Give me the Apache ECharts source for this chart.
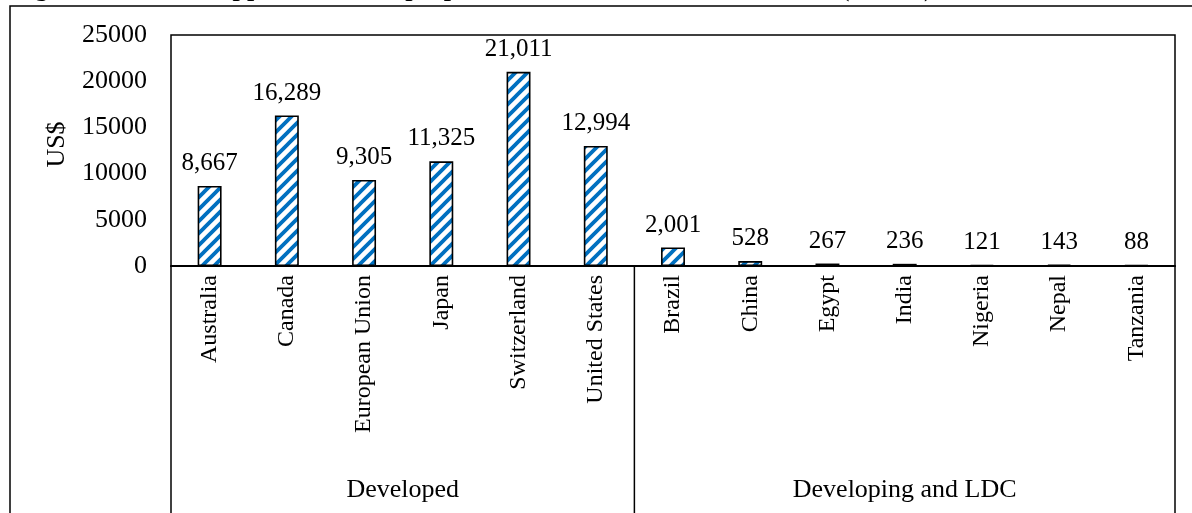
<!DOCTYPE html>
<html>
<head>
<meta charset="utf-8">
<script src="https://cdn.jsdelivr.net/npm/echarts@6/dist/echarts.min.js"></script>
<style>
  html, body { margin: 0; padding: 0; background: #fff; }
  #chart { width: 1192px; height: 513px; }
</style>
</head>
<body>
<div id="chart"></div>
<script>
// Market support per member, in US$
const countries = ['Australia', 'Canada', 'European Union', 'Japan', 'Switzerland', 'United States',
                   'Brazil', 'China', 'Egypt', 'India', 'Nigeria', 'Nepal', 'Tanzania'];
const supportUSD = [8667, 16289, 9305, 11325, 21011, 12994, 2001, 528, 267, 236, 121, 143, 88];
const groupNames = ['Developed', 'Developing and LDC'];
const groupSizes = [6, 7];
const yTicks = { min: 0, max: 25000, step: 5000 };
const titleText = 'Figure 2. Market support based on proposed AMS levels for each member (in US$)';

const FONT = '"Liberation Serif", "Times New Roman", serif';
const STRIPE = '#0070C0';

// Wide upward-diagonal hatch used as the bar fill
function hatch() {
  const s = 12;
  const c = document.createElement('canvas');
  c.width = s; c.height = s;
  const g = c.getContext('2d');
  g.fillStyle = '#fff';
  g.fillRect(0, 0, s, s);
  g.strokeStyle = STRIPE;
  g.lineWidth = 3.8;
  g.beginPath();
  g.moveTo(-2, s + 2); g.lineTo(s + 2, -2);
  g.moveTo(-2 - s, s + 2); g.lineTo(2, -2);
  g.moveTo(s - 2, s + 2); g.lineTo(s + 2 + s, -2);
  g.stroke();
  return c;
}

const chart = echarts.init(document.getElementById('chart'), null, { renderer: 'canvas' });

const option = {
  animation: false,
  backgroundColor: '#fff',
  grid: {
    left: 171, right: 17, top: 35, bottom: 247,
    show: true, borderColor: '#000', borderWidth: 1.5, backgroundColor: 'transparent'
  },
  xAxis: {
    type: 'category',
    data: countries,
    axisLine: { lineStyle: { color: '#000', width: 2 } },
    axisTick: { show: false },
    axisLabel: {
      rotate: 90, margin: 9, color: '#000',
      fontFamily: FONT, fontSize: 24
    }
  },
  yAxis: {
    type: 'value',
    min: yTicks.min, max: yTicks.max, interval: yTicks.step,
    name: 'US$', nameLocation: 'middle', nameRotate: 90, nameGap: 101,
    nameTextStyle: { color: '#000', fontFamily: FONT, fontSize: 26, padding: [0, 0, 0, 12] },
    axisLine: { show: false },
    axisTick: { show: false },
    splitLine: { show: false },
    axisLabel: {
      color: '#000', fontFamily: FONT, fontSize: 26, margin: 24,
      formatter: v => String(v)
    }
  },
  series: [{
    type: 'bar',
    data: supportUSD,
    barWidth: '31%',
    itemStyle: {
      color: { image: hatch(), repeat: 'repeat' },
      borderColor: '#000', borderWidth: 1.6
    },
    label: {
      show: true, position: 'top', distance: 10,
      color: '#000', fontFamily: FONT, fontSize: 25,
      formatter: p => p.value.toLocaleString('en-US')
    }
  }]
};
chart.setOption(option);

// Multi-level category table under the axis: group separators and group names
function drawGroups() {
  const px = i => chart.convertToPixel({ xAxisIndex: 0 }, i);
  const band = px(1) - px(0);
  const axisY = chart.convertToPixel({ yAxisIndex: 0 }, 0);
  const bottom = 513 + 5;
  const edges = [px(0) - band / 2];
  let idx = 0;
  groupSizes.forEach(n => { idx += n; edges.push(px(idx - 1) + band / 2); });

  const elements = [];
  edges.forEach(x => {
    elements.push({
      type: 'line', silent: true,
      shape: { x1: x, y1: axisY, x2: x, y2: bottom },
      style: { stroke: '#000', lineWidth: 1.5 }
    });
  });
  groupNames.forEach((name, k) => {
    elements.push({
      type: 'text', silent: true,
      x: (edges[k] + edges[k + 1]) / 2, y: 490,
      style: {
        text: name, fill: '#000', font: '26px ' + FONT,
        align: 'center', verticalAlign: 'middle'
      }
    });
  });
  // outer chart frame
  elements.push({
    type: 'polyline', silent: true,
    shape: { points: [[10, bottom], [10, 6], [1200, 6]] },
    style: { stroke: '#000', lineWidth: 1.5, fill: null }
  });
  // caption line above the frame (mostly scrolled off the top edge)
  elements.push({
    type: 'text', silent: true,
    x: 12, y: 2,
    style: {
      text: titleText, fill: '#000', font: 'bold 26px ' + FONT,
      align: 'left', verticalAlign: 'bottom', lineHeight: 26
    }
  });
  chart.setOption({ graphic: { elements } });
}
drawGroups();
</script>
</body>
</html>
